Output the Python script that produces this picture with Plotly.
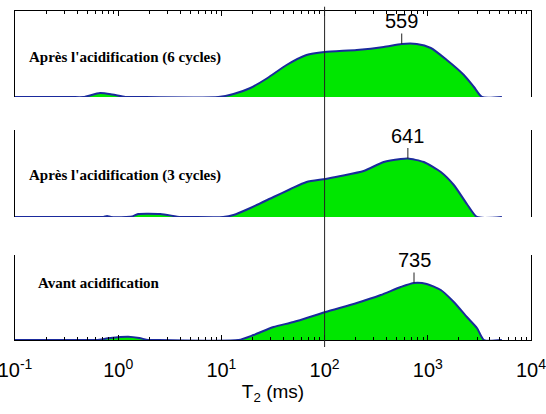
import math
import plotly.graph_objects as go

# ---- data (T2 in ms, amplitude in arbitrary units) ----
t_6cyc = [0.1, 0.35, 0.46, 0.668, 0.875, 1.17, 1.4, 9.35, 13.1, 19.1, 28, 42.8, 66.8, 100, 205, 374, 559, 782, 1069, 1528, 2237, 2800, 3345, 5225]
a_6cyc = [0, 0, 0, 4, 2.5, 0, 0, 0, 3, 9, 19, 32, 42, 45, 47, 50, 53, 53, 49, 37, 22, 10, 0, 0]

t_3cyc = [0.1, 0.6, 0.72, 0.78, 0.85, 1.2, 1.37, 1.56, 2.56, 4.0, 5.0, 10.4, 13.1, 19.1, 32, 46.8, 66.8, 102, 143, 239, 374, 547, 641, 915, 1337, 1787, 2393, 2993, 5225]
a_3cyc = [0, 0, 0, 1, 0, 0, 0.5, 3, 3, 0, 0, 0, 2, 9, 20, 28, 35, 38, 41, 46, 55, 58, 58.5, 55, 45, 32, 13, 0, 0]

t_avant = [0.1, 0.5, 0.62, 0.836, 1.25, 1.6, 1.95, 2.5, 14.6, 20.5, 32, 50, 102, 205, 350, 547, 735, 977, 1337, 1787, 2393, 2993, 3500, 5225]
a_avant = [0, 0, 0, 2, 3.3, 2, 0, 0, 0, 5, 13, 18, 28, 37, 45, 53, 57, 56, 50, 38, 23, 12, 0, 0]

labels = ["Après l'acidification (6 cycles)", "Après l'acidification (3 cycles)", "Avant acidification"]
peaks = [559, 641, 735]
peak_amp = [53, 58.5, 57]

major_vals = [0.1, 1, 10, 100, 1000, 10000]
major_text = ["10<sup>-1</sup>", "10<sup>0</sup>", "10<sup>1</sup>", "10<sup>2</sup>", "10<sup>3</sup>", "10<sup>4</sup>"]
minor_vals = [m * 10 ** e for e in range(-1, 4) for m in range(2, 10)]

series = [(t_6cyc, a_6cyc), (t_3cyc, a_3cyc), (t_avant, a_avant)]

# ---- layout geometry ----
W, H = 546, 414
mt, mb = 5, 67
ph = H - mt - mb
def py(p):
    return (H - mb - p) / ph

panels = [(11, 97), (130, 217), (255, 340)]  # top, baseline pixel rows
heights = [b - t for t, b in panels]

fig = go.Figure()
GREEN = "#00e600"
BLUE = "#1a2a9c"

for i, (tx, ay_) in enumerate(series):
    n = "" if i == 0 else str(i + 1)
    fig.add_trace(go.Scatter(
        x=tx, y=ay_, mode="lines", fill="tozeroy", fillcolor=GREEN,
        line=dict(color=BLUE, width=2, shape="spline", smoothing=0.6),
        xaxis="x" + n, yaxis="y" + n, showlegend=False, hoverinfo="skip"))

for i in range(3):
    n = "" if i == 0 else str(i + 1)
    top, base = panels[i]
    xa = dict(type="log", range=[-1, 4], domain=[0, 1], anchor="y" + n,
              showgrid=False, zeroline=False, automargin=False,
              tickmode="array", tickvals=major_vals, ticktext=major_text,
              ticks="inside", ticklen=5, tickcolor="black", linecolor="black",
              minor=dict(tickmode="array", tickvals=minor_vals, ticks="inside",
                         ticklen=3, tickcolor="black", showgrid=False))
    if i == 0:
        xa.update(side="top", showline=True, showticklabels=False)
    elif i == 1:
        xa.update(showline=False, ticks="", showticklabels=False,
                  minor=dict(ticks="", showgrid=False))
    else:
        xa.update(showline=True, showticklabels=True, ticklabeloverflow="allow",
                  tickfont=dict(family="Liberation Sans, Arial", size=20, color="black"),
                  ticklabelstandoff=12,
                  title=dict(text="T<sub>2</sub> (ms)", standoff=4,
                             font=dict(family="Liberation Sans, Arial", size=19, color="black")))
    ya = dict(domain=[py(base), py(top)], range=[0, heights[i]], anchor="x" + n,
              showline=True, linecolor="black", linewidth=1, mirror="ticks",
              ticks="inside", tickvals=[0, heights[i]], ticklen=4, tickcolor="black",
              showticklabels=False, showgrid=False, zeroline=False, automargin=False)
    fig.update_layout(**{"xaxis" + n: xa, "yaxis" + n: ya})

    fig.add_annotation(x=math.log10(peaks[i]), y=peak_amp[i], xref="x" + n, yref="y" + n,
                       text=str(peaks[i]), showarrow=True, arrowhead=0, arrowwidth=1,
                       arrowcolor="#222", ax=0, ay=-23,
                       font=dict(family="Liberation Sans, Arial", size=20, color="black"))

label_pos = [(0.023, 57), (0.023, 175), (0.04, 283)]
for (lx, ly), txt in zip(label_pos, labels):
    fig.add_annotation(x=lx, y=py(ly), xref="paper", yref="paper", xanchor="left",
                       yanchor="middle", showarrow=False, text="<b>" + txt + "</b>",
                       font=dict(family="Liberation Serif, Times New Roman", size=15, color="black"))

fig.add_shape(type="line", xref="x domain", yref="paper", x0=0.6, x1=0.6, y0=0, y1=0.995,
              line=dict(color="#222", width=1))

fig.update_layout(width=W, height=H, margin=dict(l=15, r=15, t=mt, b=mb, autoexpand=False),
                  plot_bgcolor="white", paper_bgcolor="white")

fig.write_html("out.html", config={"displayModeBar": False},
               post_script="document.body.style.margin='0';")
